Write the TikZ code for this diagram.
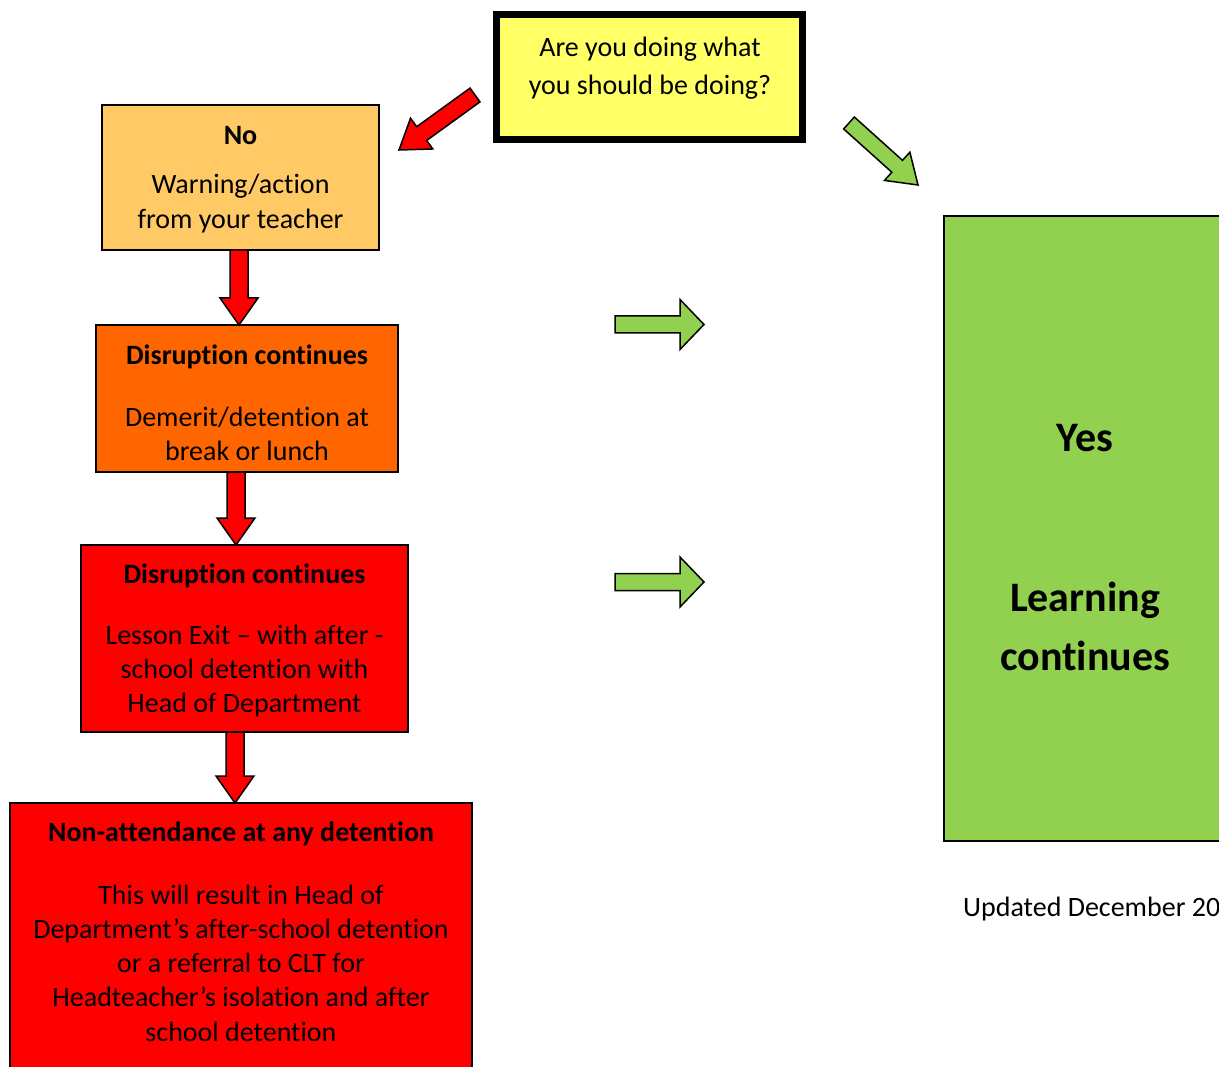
\documentclass[tikz,border=0pt]{standalone}
\usepackage{fontspec}
\setmainfont{Carlito}[Ligatures={NoCommon,NoContextual,NoRare}]
\usetikzlibrary{calc}
\definecolor{qyellow}{HTML}{FFFF66}
\definecolor{qpeach}{HTML}{FFC966}
\definecolor{qorange}{HTML}{FF6600}
\definecolor{qred}{HTML}{FF0000}
\definecolor{qgreen}{HTML}{92D050}
\newcommand\blockarrow[6]{%
  \coordinate (bah) at ($(#3)!#6!(#2)$);
  \draw[#1] ($(#2)!#4!90:(#3)$) -- ($(bah)!#4!-90:(#2)$) -- ($(bah)!#5!-90:(#2)$) -- (#3)
     -- ($(bah)!#5!90:(#2)$) -- ($(bah)!#4!90:(#2)$) -- ($(#2)!#4!-90:(#3)$) -- cycle;}
\begin{document}
\begin{tikzpicture}[x=1pt,y=-1pt,
  box/.style={draw=black, line width=1.5pt, inner sep=0pt, outer sep=0pt, anchor=north west},
  txt/.style={align=center, inner sep=0pt, font=\fontsize{28}{34}\selectfont},
  ttl/.style={inner sep=0pt, font=\fontsize{28}{34}\selectfont\bfseries},
  redarrow/.style={fill=qred, draw=black, line width=1.5pt, line join=miter},
  greenarrow/.style={fill=qgreen, draw=black, line width=1.5pt, line join=miter}]
\useasboundingbox (0,0) rectangle (1219,1067);
\clip (0,0) rectangle (1219,1067);
% boxes
\node[box, fill=qyellow, line width=7pt, minimum width=306, minimum height=125] (q) at (496.5,14.5) {};
\node[box, fill=qpeach, minimum width=277, minimum height=145] (no) at (102,105) {};
\node[box, fill=qorange, minimum width=302, minimum height=147] (dis1) at (96,325) {};
\node[box, fill=qred, minimum width=327, minimum height=187] (exit) at (81,545) {};
\node[box, fill=qred, minimum width=462, minimum height=290] (non) at (10,803) {};
\node[box, fill=qgreen, minimum width=282, minimum height=625] (yes) at (944,216) {};
% texts
\node[txt, font=\fontsize{28}{38}\selectfont] (qt) at (650,68) {Are you doing what\\you should be doing?};
\node[ttl] (not) at (240.5,135.5) {No};
\node[txt, font=\fontsize{28}{35}\selectfont] (nob) at (240.5,203.5) {Warning/action\\from your teacher};
\node[ttl] (dis1t) at (247,357) {Disruption continues};
\node[txt] (dis1b) at (247,434) {Demerit/detention at\\break or lunch};
\node[ttl] (exitt) at (244.5,576) {Disruption continues};
\node[txt] (exitb) at (244.5,671) {Lesson Exit – with after -\\school detention with\\Head of Department};
\node[ttl] (nont) at (241,834) {Non-attendance at any detention};
\node[txt, font=\fontsize{28}{34.3}\selectfont] (nonb) at (241,963) {This will result in Head of\\Department’s after-school detention\\or a referral to CLT for\\Headteacher’s isolation and after\\school detention};
\node[inner sep=0pt, font=\fontsize{42}{50}\selectfont\bfseries] (yest) at (1085,438) {Yes};
\node[align=center, inner sep=0pt, font=\fontsize{42}{59}\selectfont\bfseries] (yesb) at (1085,626.5) {Learning\\continues};
\node[anchor=west, inner sep=0pt, font=\fontsize{28}{34}\selectfont] (upd) at (963,909.5) {Updated December 20};
% arrows
\coordinate (ra1) at (475,95);
\coordinate (ra2) at (399,150);
\blockarrow{redarrow}{ra1}{ra2}{8.5pt}{19pt}{28pt}
\coordinate (gd1) at (849,123);
\coordinate (gd2) at (918,185);
\blockarrow{greenarrow}{gd1}{gd2}{8pt}{19pt}{28pt}
\coordinate (d1a) at ([xshift=-1.5pt]no.south);
\coordinate (d1b) at (d1a |- dis1.north);
\blockarrow{redarrow}{d1a}{d1b}{9pt}{19pt}{27pt}
\coordinate (d2a) at ([xshift=-11pt]dis1.south);
\coordinate (d2b) at (d2a |- exit.north);
\blockarrow{redarrow}{d2a}{d2b}{9pt}{19pt}{27pt}
\coordinate (d3a) at ([xshift=-9.5pt]exit.south);
\coordinate (d3b) at (d3a |- non.north);
\blockarrow{redarrow}{d3a}{d3b}{9pt}{19pt}{27pt}
\coordinate (ga1) at (615,324.5);
\coordinate (gb1) at (704,324.5);
\blockarrow{greenarrow}{ga1}{gb1}{8.5pt}{25pt}{24pt}
\coordinate (ga2) at (615,582);
\coordinate (gb2) at (704,582);
\blockarrow{greenarrow}{ga2}{gb2}{8.5pt}{25pt}{24pt}
\end{tikzpicture}
\end{document}
